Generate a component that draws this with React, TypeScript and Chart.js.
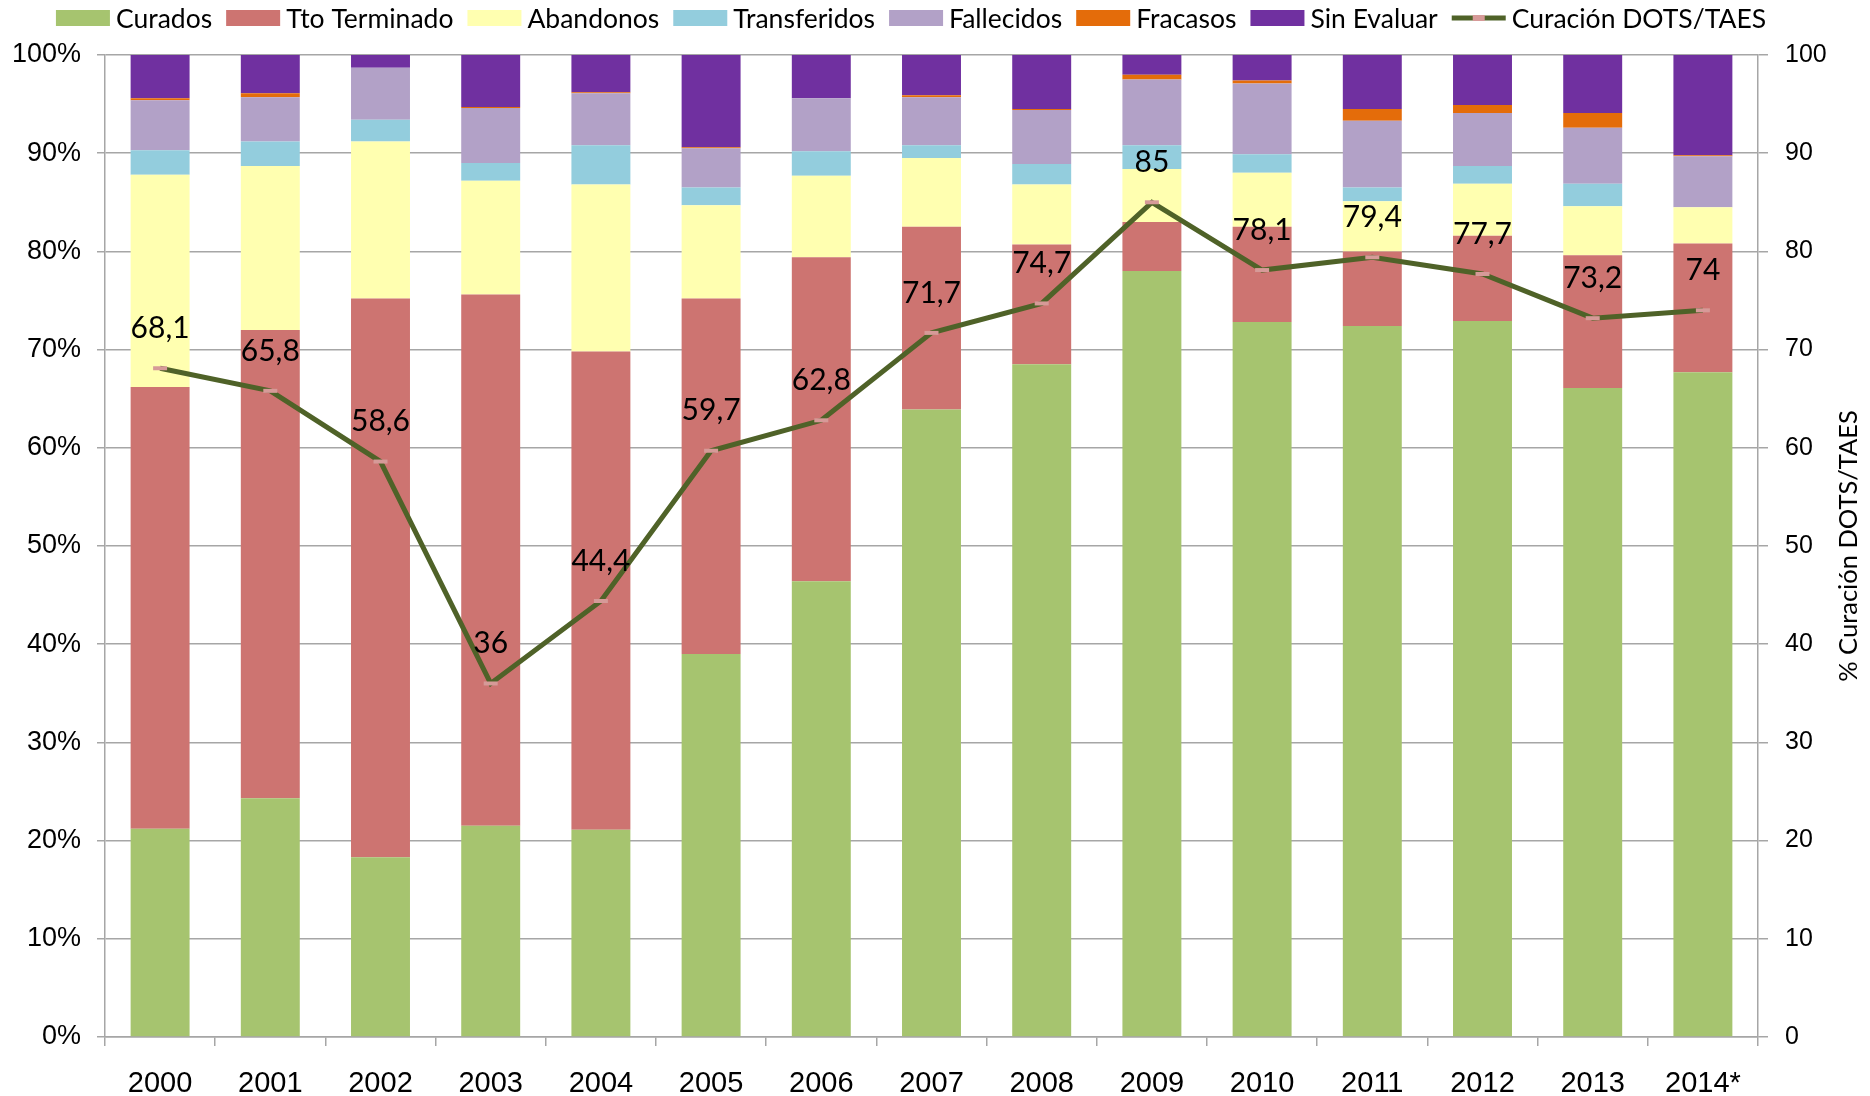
import React, { useEffect, useRef } from "react";
import { Chart, registerables } from "chart.js";

Chart.register(...registerables);

// ---------- DATA ----------
const years = ["2000", "2001", "2002", "2003", "2004", "2005", "2006", "2007", "2008", "2009", "2010", "2011", "2012", "2013", "2014*"];
const curados = [21.2, 24.3, 18.3, 21.5, 21.1, 39.0, 46.4, 63.9, 68.5, 78.0, 72.8, 72.4, 72.9, 66.1, 67.7];
const ttoTerminado = [45.0, 47.7, 56.9, 54.1, 48.7, 36.2, 33.0, 18.6, 12.2, 5.0, 9.7, 7.6, 8.7, 13.5, 13.1];
const abandonos = [21.6, 16.7, 16.0, 11.6, 17.0, 9.5, 8.3, 7.0, 6.1, 5.4, 5.5, 5.1, 5.3, 5.0, 3.7];
const transferidos = [2.5, 2.5, 2.2, 1.8, 4.0, 1.8, 2.5, 1.3, 2.1, 2.4, 1.9, 1.4, 1.8, 2.3, 0];
const fallecidos = [5.1, 4.5, 5.3, 5.6, 5.3, 4.0, 5.4, 4.9, 5.5, 6.7, 7.2, 6.8, 5.4, 5.7, 5.2];
const fracasos = [0.2, 0.4, 0, 0.1, 0.1, 0.1, 0, 0.2, 0.1, 0.5, 0.3, 1.2, 0.8, 1.5, 0.1];
const sinEvaluar = [4.4, 3.9, 1.3, 5.3, 3.8, 9.4, 4.4, 4.1, 5.5, 2.0, 2.6, 5.5, 5.1, 5.9, 10.2];
const curacionDots = [68.1, 65.8, 58.6, 36, 44.4, 59.7, 62.8, 71.7, 74.7, 85, 78.1, 79.4, 77.7, 73.2, 74];
const leftTicks = [0, 10, 20, 30, 40, 50, 60, 70, 80, 90, 100];

const seriesNames = ["Curados", "Tto Terminado", "Abandonos", "Transferidos", "Fallecidos", "Fracasos", "Sin Evaluar"];
const seriesColors = ["#a6c46f", "#cd7471", "#ffffb0", "#93cddd", "#b2a1c7", "#e46c0a", "#7030a0"];
const lineName = "Curación DOTS/TAES";
const lineColor = "#4f6228";
const markerColor = "#d69a98";
const axisTitle = "% Curación DOTS/TAES";

const SANS = "Lato, 'Open Sans', sans-serif";
const TICK = "'Liberation Sans', Arial, sans-serif";
const GRID = "#a6a6a6";

const legendPlugin = {
  id: "customLegend",
  afterDraw(chart: any) {
    const ctx = chart.ctx;
    ctx.save();
    ctx.font = `26.5px ${SANS}`;
    ctx.textBaseline = "middle";
    const box = 54, gapBox = 6, gapItem = 14;
    const items = chart.data.datasets.map((d: any) => ({ label: d.label, type: d.type || "bar", color: d.type === "line" ? d.borderColor : d.backgroundColor }));
    const bars = items.filter((i: any) => i.type !== "line");
    const lines = items.filter((i: any) => i.type === "line");
    const all = [...bars, ...lines];
    const widths = all.map((i: any) => box + gapBox + ctx.measureText(i.label).width);
    const total = widths.reduce((a: number, b: number) => a + b, 0) + gapItem * (all.length - 1);
    let x = 911 - total / 2;
    const y = 18;
    all.forEach((it: any, k: number) => {
      if (it.type === "line") {
        ctx.strokeStyle = it.color;
        ctx.lineWidth = 5;
        ctx.beginPath();
        ctx.moveTo(x, y);
        ctx.lineTo(x + box, y);
        ctx.stroke();
        ctx.fillStyle = markerColor;
        ctx.fillRect(x + box / 2 - 6, y - 3, 12, 6);
      } else {
        ctx.fillStyle = it.color;
        ctx.fillRect(x, y - 8, box, 16);
      }
      ctx.fillStyle = "#000";
      ctx.textAlign = "left";
      ctx.fillText(it.label, x + box + gapBox, y + 1);
      x += widths[k] + gapItem;
    });
    // right axis title (reads bottom-to-top)
    const ca = chart.chartArea;
    ctx.translate(1849, (ca.top + ca.bottom) / 2);
    ctx.rotate(-Math.PI / 2);
    ctx.textAlign = "center";
    ctx.font = `25.5px ${SANS}`;
    ctx.fillText(axisTitle, 0, 0);
    ctx.restore();
  },
};

const labelPlugin = {
  id: "lineLabels",
  afterDatasetsDraw(chart: any) {
    const ctx = chart.ctx;
    chart.data.datasets.forEach((d: any, i: number) => {
      if (d.type !== "line") return;
      const meta = chart.getDatasetMeta(i);
      ctx.save();
      ctx.font = `30px ${SANS}`;
      ctx.fillStyle = "#000";
      ctx.textAlign = "center";
      ctx.textBaseline = "middle";
      meta.data.forEach((pt: any, j: number) => {
        const txt = String(d.data[j]).replace(".", ",");
        ctx.fillText(txt, pt.x, pt.y - 40);
      });
      ctx.restore();
    });
  },
};

export default function App() {
  const ref = useRef<HTMLCanvasElement>(null);
  useEffect(() => {
    document.body.style.margin = "0";
    const barData = [curados, ttoTerminado, abandonos, transferidos, fallecidos, fracasos, sinEvaluar];
    const datasets: any[] = barData.map((arr, i) => ({
      type: "bar",
      label: seriesNames[i],
      data: arr,
      backgroundColor: seriesColors[i],
      borderWidth: 0,
      barPercentage: 1,
      categoryPercentage: 0.535,
      yAxisID: "y",
      order: 2,
    }));
    datasets.push({
      type: "line",
      label: lineName,
      data: curacionDots,
      borderColor: lineColor,
      backgroundColor: lineColor,
      borderWidth: 5,
      pointStyle: "line",
      pointRadius: 7,
      pointBorderColor: markerColor,
      pointBorderWidth: 4,
      yAxisID: "y1",
      order: 0,
      tension: 0,
    });
    const chart = new Chart(ref.current!, {
      type: "bar",
      data: { labels: years, datasets },
      options: {
        responsive: false,
        animation: false,
        devicePixelRatio: 1,
        layout: { padding: { top: 55, left: 0, right: 0, bottom: 0 } },
        plugins: { legend: { display: false }, tooltip: { enabled: false } },
        scales: {
          x: {
            stacked: true,
            grid: { offset: true, drawOnChartArea: false, drawTicks: true, tickLength: 9, color: GRID, lineWidth: 1.5 },
            border: { color: GRID, width: 1.5 },
            ticks: { font: { family: TICK, size: 29 }, color: "#000", padding: 21, maxRotation: 0 },
            afterFit: (s: any) => { s.height = 59; },
          },
          y: {
            stacked: true,
            min: 0,
            max: 100,
            afterBuildTicks: (s: any) => { s.ticks = leftTicks.map((v) => ({ value: v })); },
            ticks: { callback: (v: any) => v + "%", font: { family: TICK, size: 27 }, color: "#000", padding: 16 },
            grid: { color: GRID, lineWidth: 1.5, tickLength: 8 },
            border: { color: GRID, width: 1.5 },
            afterFit: (s: any) => { s.width = 105; },
          },
          y1: {
            position: "right",
            min: 0,
            max: 100,
            afterBuildTicks: (s: any) => { s.ticks = leftTicks.map((v) => ({ value: v })); },
            ticks: { font: { family: TICK, size: 25 }, color: "#000", padding: 17 },
            grid: { drawOnChartArea: false, color: GRID, lineWidth: 1.5, tickLength: 10 },
            border: { color: GRID, width: 1.5 },
            afterFit: (s: any) => { s.width = 112; },
          },
        },
      } as any,
      plugins: [legendPlugin, labelPlugin],
    });
    return () => chart.destroy();
  }, []);
  return (
    <div style={{ position: "absolute", left: 0, top: 0, width: 1870, height: 1096 }}>
      <canvas ref={ref} width={1870} height={1096} style={{ width: 1870, height: 1096 }} />
    </div>
  );
}
